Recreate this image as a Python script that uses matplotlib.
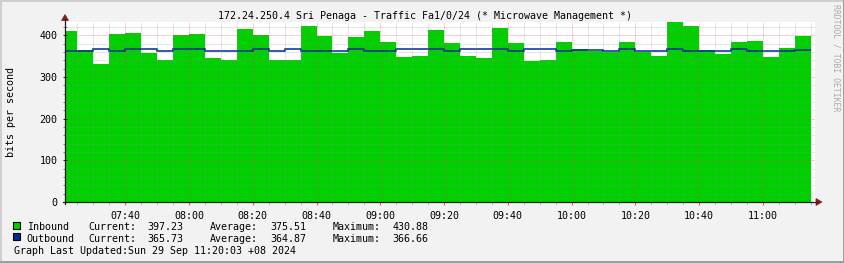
import numpy as np
import matplotlib
matplotlib.use("Agg")
import matplotlib.pyplot as plt
from matplotlib.patches import Polygon, Rectangle
from matplotlib.lines import Line2D
from matplotlib.ticker import MultipleLocator, FixedLocator, FuncFormatter

# ---------------- data ----------------
title = "172.24.250.4 Sri Penaga - Traffic Fa1/0/24 (* Microwave Management *)"
y_label = "bits per second"
watermark = "RRDTOOL / TOBI OETIKER"
footer = "Graph Last Updated:Sun 29 Sep 11:20:03 +08 2024"

series_names = ["Inbound", "Outbound"]
first_step_start = "07:20"
step_minutes = 5

inbound = [410.4, 364.0, 332.0, 403.0, 405.6, 358.4, 340.8, 400.8, 403.0, 345.6,
           340.8, 415.0, 400.8, 340.8, 340.8, 422.4, 398.4, 358.4, 396.0, 410.4,
           384.0, 348.0, 350.4, 412.8, 381.6, 351.2, 346.4, 417.6, 381.6, 338.4,
           340.8, 384.0, 366.4, 362.4, 360.0, 384.0, 360.0, 351.2, 430.88, 422.4,
           364.8, 356.0, 384.0, 386.4, 348.0, 369.6, 397.23]
outbound = [363.6, 363.6, 366.4, 363.6, 366.4, 366.4, 363.6, 366.4, 366.6, 363.6,
            363.6, 363.6, 366.4, 363.6, 366.4, 363.6, 363.6, 363.6, 366.4, 363.6,
            363.6, 366.4, 366.6, 366.4, 363.6, 366.4, 366.4, 366.4, 363.6, 366.4,
            366.4, 363.6, 365.6, 364.8, 363.4, 366.4, 363.6, 362.5, 366.4, 363.6,
            363.6, 363.6, 366.4, 363.6, 363.6, 363.6, 365.73]

current = ["397.23", "365.73"]
average = ["375.51", "364.87"]
maximum = ["430.88", "366.66"]

x_tick_labels = ["07:40", "08:00", "08:20", "08:40", "09:00", "09:20",
                 "09:40", "10:00", "10:20", "10:40", "11:00"]
view_start = "07:21.1"
view_end = "11:16.35"
y_ticks = [0, 100, 200, 300, 400]
y_max = 432

# ---------------- style ----------------
W, H, DPI = 845, 263, 100
BACK = "#F2F2F2"
CANVAS = "#FFFFFF"
SHADEA = "#CFCFCF"
SHADEB = "#9E9E9E"
GRID = (0.56, 0.56, 0.56, 0.45)
MGRID = (0.87, 0.31, 0.31, 0.50)
ARROW = "#801F1F"
AXIS = "#1F1F1F"
IN_COL = "#00CF00"
OUT_COL = "#002A97"
FONT = "DejaVu Sans Mono"
FS = 7.2

plt.rcParams["font.family"] = FONT


def tmin(s):
    h, m = s.split(":")
    return int(h) * 60 + float(m)


def px(x, y):
    return (x / W, 1 - y / H)


fig = plt.figure(figsize=(W / DPI, H / DPI), dpi=DPI, facecolor=BACK)

# axes area (pixel box 65..815 x 22..202)
l, b = px(65, 202)
r, t = px(815, 22)
ax = fig.add_axes([l, b, r - l, t - b])
ax.set_facecolor(CANVAS)

start = tmin(first_step_start)
edges = start + step_minutes * np.arange(len(inbound) + 1)

ax.stairs(inbound, edges, fill=True, color=IN_COL, zorder=1, lw=0)
ax.stairs(outbound, edges, baseline=None, color=OUT_COL, lw=1.1, zorder=2)

ax.set_xlim(tmin(view_start), tmin(view_end))
ax.set_ylim(0, y_max)

# ticks / grid
major_x = [tmin(s) for s in x_tick_labels]
ax.xaxis.set_major_locator(FixedLocator(major_x))
ax.xaxis.set_major_formatter(FuncFormatter(lambda v, p: "%02d:%02d" % (int(v // 60), int(round(v % 60)))))
ax.xaxis.set_minor_locator(MultipleLocator(step_minutes))
ax.yaxis.set_major_locator(FixedLocator(y_ticks))
ax.yaxis.set_minor_locator(MultipleLocator(20))

ax.set_axisbelow(False)
ax.grid(which="minor", color=GRID[:3], alpha=GRID[3], linestyle=(0, (1, 1)), linewidth=0.72)
ax.grid(which="major", color=MGRID[:3], alpha=MGRID[3], linestyle=(0, (1, 1)), linewidth=0.72)

for s in ax.spines.values():
    s.set_visible(False)

ax.tick_params(axis="x", which="both", direction="out", length=2, width=0.72,
               labelsize=FS, pad=4.5)
ax.tick_params(axis="x", which="major", color=MGRID[:3])
ax.tick_params(axis="x", which="minor", color=(0.75, 0.75, 0.75))
ax.tick_params(axis="y", which="both", direction="inout", length=3.5, width=0.72,
               color=AXIS, labelsize=FS, pad=3.5)
ax.tick_params(axis="y", which="minor", length=2.5, color=(0.5, 0.5, 0.5))

# axis lines with arrows
fig.add_artist(Line2D(*zip(px(63, 202), px(817, 202)), color=AXIS, lw=0.9))
fig.add_artist(Line2D(*zip(px(65, 204), px(65, 19)), color=AXIS, lw=0.9))
fig.add_artist(Polygon([px(822, 202), px(816, 198.5), px(816, 205.5)], closed=True,
                       facecolor=ARROW, edgecolor=ARROW, lw=0.5, transform=fig.transFigure))
fig.add_artist(Polygon([px(65, 14.5), px(61.5, 20.5), px(68.5, 20.5)], closed=True,
                       facecolor=ARROW, edgecolor=ARROW, lw=0.5, transform=fig.transFigure))

# texts
fig.text(*px(425, 18.7), title, ha="center", va="baseline", fontsize=FS)
fig.text(*px(11.5, 112), y_label, ha="center", va="center", rotation=90, fontsize=FS)
fig.text(*px(836.5, 4), watermark, ha="center", va="top", rotation=270,
         fontsize=5.9, color="#ABABAB")

cols = [IN_COL, OUT_COL]
baselines = [230.3, 242.0]
box_tops = [221.7, 233.3]
for i in range(2):
    fig.add_artist(Rectangle(px(13, box_tops[i] + 7), 7 / W, 7 / H,
                             facecolor=cols[i], edgecolor="#000000", lw=0.8,
                             transform=fig.transFigure))
    yb = baselines[i]
    fig.text(*px(26.7, yb), series_names[i], ha="left", va="baseline", fontsize=FS)
    fig.text(*px(88.3, yb), "Current:", ha="left", va="baseline", fontsize=FS)
    fig.text(*px(147.7, yb), current[i], ha="left", va="baseline", fontsize=FS)
    fig.text(*px(210.0, yb), "Average:", ha="left", va="baseline", fontsize=FS)
    fig.text(*px(270.0, yb), average[i], ha="left", va="baseline", fontsize=FS)
    fig.text(*px(332.3, yb), "Maximum:", ha="left", va="baseline", fontsize=FS)
    fig.text(*px(392.7, yb), maximum[i], ha="left", va="baseline", fontsize=FS)
fig.text(*px(14, 253.7), footer, ha="left", va="baseline", fontsize=FS)

# 3D frame
fig.add_artist(Rectangle((0, 1 - 2 / H), 1, 2 / H, facecolor=SHADEA, lw=0, transform=fig.transFigure))
fig.add_artist(Rectangle((0, 0), 2 / W, 1, facecolor=SHADEA, lw=0, transform=fig.transFigure))
fig.add_artist(Rectangle((0, 0), 1, 2 / H, facecolor=SHADEB, lw=0, transform=fig.transFigure))
fig.add_artist(Rectangle((1 - 2 / W, 0), 2 / W, 1, facecolor=SHADEB, lw=0, transform=fig.transFigure))

fig.savefig("out.png", dpi=DPI, facecolor=BACK)
